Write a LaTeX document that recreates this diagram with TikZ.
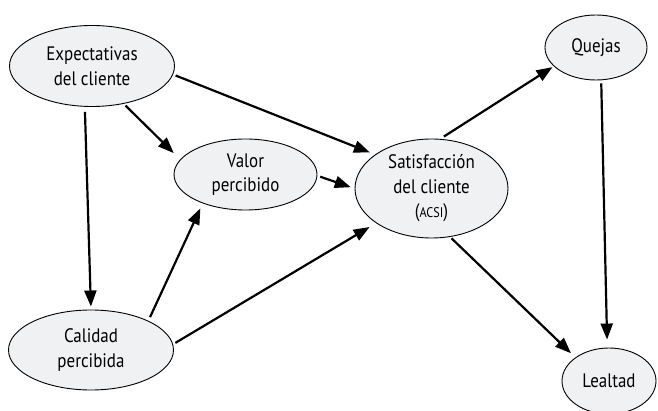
\documentclass[tikz,border=0pt]{standalone}
\usepackage{fontspec}
\setmainfont{PT Sans}[FakeStretch=0.87]
\usetikzlibrary{shapes.geometric,arrows.meta}
\definecolor{ellfill}{RGB}{240,241,243}
\begin{document}
\begin{tikzpicture}[x=1pt,y=-1pt,
  ell/.style={ellipse,draw=black,line width=0.9pt,fill=ellfill,inner sep=0pt,align=center,
    font=\fontsize{19.5}{24.5}\selectfont},
  arr/.style={line width=2.2pt,-{Triangle[length=16pt,width=12pt]}}]
\useasboundingbox[fill=white] (0,0) rectangle (658,411);
\node[ell,minimum width=165pt,minimum height=81pt] (exp) at (92,66) {Expectativas\\del cliente};
\node[ell,minimum width=143pt,minimum height=71pt] (val) at (245.5,174.5) {Valor\\percibido};
\node[ell,minimum width=153pt,minimum height=99pt] (sat) at (431.5,188.5) {Satisfacción\\del cliente\\({\fontsize{14}{16}\selectfont ACSI})};
\node[ell,minimum width=102pt,minimum height=65pt] (que) at (596,47.5) {Quejas};
\node[ell,minimum width=94pt,minimum height=66pt] (lea) at (609,381) {\raisebox{-6pt}{Lealtad}};
\node[ell,minimum width=165pt,minimum height=80pt] (cal) at (91,350) {Calidad\\percibida};
\draw[arr,shorten <=2.7pt,shorten >=5.5pt] (exp.-6.4) -- (sat.149.3);
\draw[arr,shorten <=2.5pt,shorten >=9pt] (exp.-50.1) -- (val.167.6);
\draw[arr,shorten <=5pt,shorten >=3pt] (exp.-100.2) -- (cal.90);
\draw[arr,shorten <=4pt,shorten >=5.5pt] (cal.27.5) -- (val.214.1);
\draw[arr,shorten <=2.6pt,shorten >=7.5pt] (cal.4) -- (sat.212.2);
\draw[arr,shorten <=3pt,shorten >=4pt] (val.-1.2) -- (sat.180.2);
\draw[arr,shorten <=4.3pt,shorten >=1.5pt] (sat.80.9) -- (que.204.2);
\draw[arr,shorten <=2pt,shorten >=6pt] (sat.-69.4) -- (lea.145.9);
\draw[arr,shorten <=3pt,shorten >=8pt] (que.-81.3) -- (lea.93.5);
\end{tikzpicture}
\end{document}
